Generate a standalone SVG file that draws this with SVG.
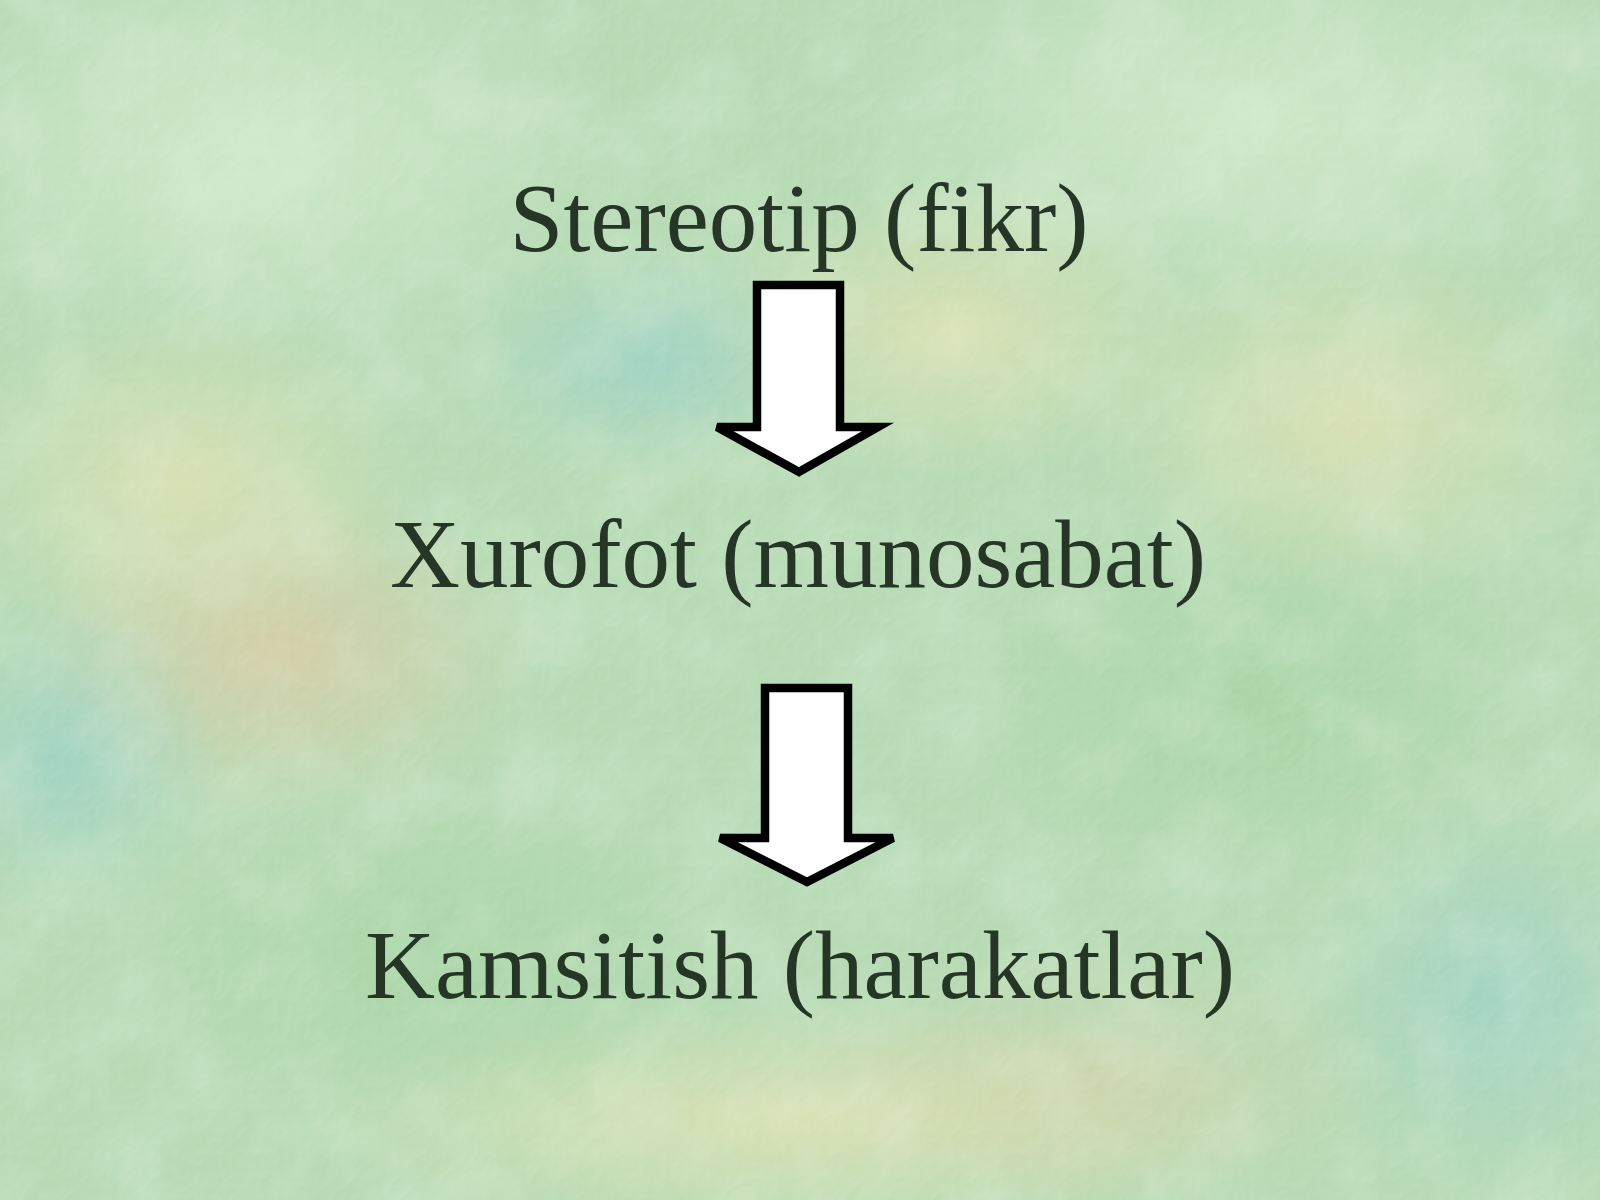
<svg xmlns="http://www.w3.org/2000/svg" width="1600" height="1200" viewBox="0 0 1600 1200">
  <defs>
    <style>
      .label { font-family: "Liberation Serif", "Times New Roman", serif; font-size: 97px; fill: #263626; text-anchor: middle; }
      .arrow { fill: #ffffff; stroke: #000000; stroke-width: 8.5; stroke-linejoin: miter; }
    </style>
    <radialGradient id="blobY" cx="0.5" cy="0.5" r="0.5">
      <stop offset="0" stop-color="#e2e2b0" stop-opacity="0.75"/>
      <stop offset="1" stop-color="#e2e2b0" stop-opacity="0"/>
    </radialGradient>
    <radialGradient id="blobO" cx="0.5" cy="0.5" r="0.5">
      <stop offset="0" stop-color="#e0c9a0" stop-opacity="0.7"/>
      <stop offset="1" stop-color="#e0c9a0" stop-opacity="0"/>
    </radialGradient>
    <radialGradient id="blobB" cx="0.5" cy="0.5" r="0.5">
      <stop offset="0" stop-color="#98d0c8" stop-opacity="0.7"/>
      <stop offset="1" stop-color="#98d0c8" stop-opacity="0"/>
    </radialGradient>
    <radialGradient id="blobG" cx="0.5" cy="0.5" r="0.5">
      <stop offset="0" stop-color="#a2d2a0" stop-opacity="0.7"/>
      <stop offset="1" stop-color="#a2d2a0" stop-opacity="0"/>
    </radialGradient>
    <radialGradient id="blobL" cx="0.5" cy="0.5" r="0.5">
      <stop offset="0" stop-color="#d4eccc" stop-opacity="0.8"/>
      <stop offset="1" stop-color="#d4eccc" stop-opacity="0"/>
    </radialGradient>
    <filter id="grain" x="0" y="0" width="100%" height="100%">
      <feTurbulence type="fractalNoise" baseFrequency="0.012" numOctaves="4" seed="7" result="n"/>
      <feColorMatrix in="n" type="matrix" values="0 0 0 0 0.85  0 0 0 0 0.93  0 0 0 0 0.80  0 0 0 1.1 -0.45"/>
    </filter>
    <filter id="paper" x="0" y="0" width="100%" height="100%">
      <feTurbulence type="turbulence" baseFrequency="0.045" numOctaves="2" seed="3" result="t"/>
      <feDiffuseLighting in="t" surfaceScale="1.6" lighting-color="#ffffff" diffuseConstant="1" result="lit">
        <feDistantLight azimuth="225" elevation="55"/>
      </feDiffuseLighting>
      <feColorMatrix in="lit" type="matrix" values="0 0 0 0 1  0 0 0 0 1  0 0 0 0 1  -1 0 0 0 0.95"/>
    </filter>
  </defs>

  <g id="background">
    <rect x="0" y="0" width="1600" height="1200" fill="#b6dab4"/>
    <ellipse cx="250" cy="150" rx="380" ry="220" fill="url(#blobL)"/>
    <ellipse cx="1250" cy="120" rx="420" ry="200" fill="url(#blobL)"/>
    <ellipse cx="950" cy="330" rx="250" ry="150" fill="url(#blobY)"/>
    <ellipse cx="280" cy="650" rx="260" ry="170" fill="url(#blobO)"/>
    <ellipse cx="180" cy="480" rx="240" ry="170" fill="url(#blobY)"/>
    <ellipse cx="650" cy="360" rx="200" ry="120" fill="url(#blobB)"/>
    <ellipse cx="60" cy="760" rx="160" ry="160" fill="url(#blobB)"/>
    <ellipse cx="1500" cy="1000" rx="200" ry="200" fill="url(#blobB)"/>
    <ellipse cx="1250" cy="700" rx="300" ry="200" fill="url(#blobG)"/>
    <ellipse cx="800" cy="1120" rx="500" ry="120" fill="url(#blobY)"/>
    <ellipse cx="450" cy="960" rx="320" ry="160" fill="url(#blobG)"/>
    <ellipse cx="1350" cy="420" rx="260" ry="180" fill="url(#blobY)"/>
    <ellipse cx="1100" cy="1080" rx="300" ry="140" fill="url(#blobO)" opacity="0.5"/>
    <rect x="0" y="0" width="1600" height="1200" filter="url(#grain)" opacity="0.45"/>
    <rect x="0" y="0" width="1600" height="1200" filter="url(#paper)" opacity="0.25"/>
  </g>

  <g id="connectors">
    <polygon id="arrow-1" class="arrow" points="757,285 840,285 840,427 878,427 799,472 717,427 757,427"/>
    <polygon id="arrow-2" class="arrow" points="765,688 848,688 848,838 893,838 807,882 720,838 765,838"/>
  </g>

  <g id="node-stereotip">
    <text class="label" x="799" y="251">Stereotip (fikr)</text>
  </g>
  <g id="node-xurofot">
    <text class="label" x="798" y="587">Xurofot (munosabat)</text>
  </g>
  <g id="node-kamsitish">
    <text class="label" x="800" y="998">Kamsitish (harakatlar)</text>
  </g>
</svg>
